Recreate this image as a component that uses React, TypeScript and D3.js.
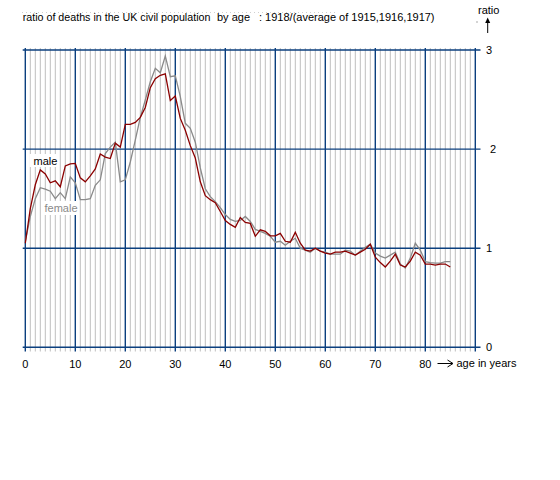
import React from 'react';
import * as d3 from 'd3';

// ratio 1918 / mean(1915,1916,1917), by single year of age 0..85
const ages = d3.range(0, 86);
const male = [
  1.05, 1.4, 1.64, 1.79, 1.75, 1.66, 1.68, 1.62, 1.83, 1.85,
  1.855, 1.71, 1.67, 1.73, 1.8, 1.95, 1.92, 1.905, 2.06, 2.02,
  2.25, 2.25, 2.27, 2.32, 2.42, 2.62, 2.71, 2.745, 2.76, 2.49,
  2.535, 2.31, 2.19, 2.035, 1.91, 1.67, 1.53, 1.49, 1.46, 1.37,
  1.28, 1.24, 1.21, 1.31, 1.26, 1.25, 1.12, 1.185, 1.17, 1.125,
  1.125, 1.15, 1.07, 1.06, 1.16, 1.05, 0.98, 0.97, 1.0, 0.97,
  0.95, 0.94, 0.96, 0.96, 0.97, 0.95, 0.93, 0.96, 0.99, 1.04,
  0.91, 0.855, 0.81, 0.87, 0.94, 0.83, 0.81, 0.87, 0.96, 0.93,
  0.84, 0.84, 0.83, 0.84, 0.84, 0.81,
];
const female = [
  1.07, 1.32, 1.5, 1.61, 1.595, 1.575, 1.5, 1.56, 1.5, 1.72,
  1.66, 1.49, 1.49, 1.5, 1.635, 1.69, 1.955, 2.02, 2.07, 1.67,
  1.69, 1.87, 2.09, 2.32, 2.495, 2.68, 2.815, 2.77, 2.94, 2.73,
  2.74, 2.53, 2.26, 2.21, 2.07, 1.81, 1.6, 1.52, 1.47, 1.41,
  1.34, 1.29, 1.27, 1.28, 1.32, 1.27, 1.19, 1.17, 1.15, 1.12,
  1.06, 1.07, 1.03, 1.07, 1.1, 1.0, 0.98, 0.96, 1.0, 0.97,
  0.96, 0.94, 0.94, 0.94, 0.98, 0.97, 0.93, 0.97, 1.01, 1.04,
  0.95, 0.92, 0.9, 0.93, 0.96, 0.84, 0.8, 0.9, 1.05, 0.98,
  0.865, 0.855, 0.85, 0.85, 0.865, 0.865,
];
const xTicks = [0, 10, 20, 30, 40, 50, 60, 70, 80];
const yTicks = [0, 1, 2, 3];

const W = 560;
const H = 480;
const font = '"Liberation Sans", Arial, sans-serif';
const blue = '#0b3f7e';

export default function App() {
  const x = d3.scaleLinear().domain([0, 90]).range([25.3, 475.3]);
  const y = d3.scaleLinear().domain([0, 3]).range([347.3, 50]);

  const line = d3
    .line<number>()
    .x((d, i) => x(ages[i]))
    .y((d) => y(d));

  const yearLines = d3.range(0, 91);

  return (
    <svg
      width={W}
      height={H}
      style={{ position: 'absolute', left: 0, top: 0, background: '#fff' }}
      fontFamily={font}
    >
      {/* faint dotted artefact above the title */}
      <line x1={22} x2={337} y1={12.5} y2={12.5} stroke="#d0d0d0" strokeDasharray="1 3" />

      {/* title */}
      <text x={22.7} y={21} fontSize={10.7} fill="#000">
        ratio of deaths in the UK civil population
      </text>
      <text x={217} y={21} fontSize={11} fill="#000">by age</text>
      <text x={259} y={21} fontSize={11} fill="#000">
        : 1918/(average of 1915,1916,1917)
      </text>

      {/* vertical grid: every year grey, every 10 years blue */}
      {yearLines
        .filter((a) => a % 10 !== 0)
        .map((a) => (
          <line key={'g' + a} x1={x(a)} x2={x(a)} y1={48} y2={351.5} stroke="#bebebe" strokeWidth={1} />
        ))}
      {yearLines
        .filter((a) => a % 10 === 0)
        .map((a) => (
          <line key={'b' + a} x1={x(a)} x2={x(a)} y1={48} y2={351.5} stroke={blue} strokeWidth={1.4} />
        ))}

      {/* horizontal grid */}
      {yTicks.map((v) => (
        <line key={'h' + v} x1={22.7} x2={480.5} y1={y(v)} y2={y(v)} stroke={blue} strokeWidth={1.4} />
      ))}

      {/* y labels on the right */}
      {yTicks.map((v) => (
        <text key={'yl' + v} x={v === 2 ? 490 : 486} y={y(v) + 4} fontSize={11} fill="#000">
          {v}
        </text>
      ))}

      {/* x labels */}
      {xTicks.map((a) => (
        <text key={'xl' + a} x={x(a)} y={368} fontSize={11} textAnchor="middle" fill="#000">
          {a}
        </text>
      ))}

      {/* series */}
      <path d={line(female) || ''} fill="none" stroke="#8a8a8a" strokeWidth={1.3} />
      <path d={line(male) || ''} fill="none" stroke="#8b0000" strokeWidth={1.3} />

      {/* series labels */}
      <rect x={29.5} y={154} width={27} height={13} fill="#fff" />
      <text x={33.5} y={164.5} fontSize={11} fill="#000">male</text>
      <rect x={41} y={201} width={36} height={14} fill="#fff" />
      <text x={44.5} y={211.5} fontSize={11} fill="#8a8a8a">female</text>

      {/* y axis name with arrow */}
      <text x={478} y={14} fontSize={11} fill="#000">ratio</text>
      <line x1={487.7} x2={487.7} y1={20} y2={33} stroke="#000" strokeWidth={1} />
      <path d="M485.2,23 L487.7,17.5 L490.2,23 Z" fill="#000" />
      <rect x={476.5} y={21.5} width={1} height={1} fill="#555" />

      {/* x axis name with arrow */}
      <line x1={437.5} x2={452.5} y1={363.5} y2={363.5} stroke="#000" strokeWidth={1} />
      <path d="M447.5,360 L453,363.5 L447.5,367" fill="none" stroke="#000" strokeWidth={1} />
      <text x={456.5} y={367} fontSize={11} fill="#000">age in years</text>
    </svg>
  );
}
